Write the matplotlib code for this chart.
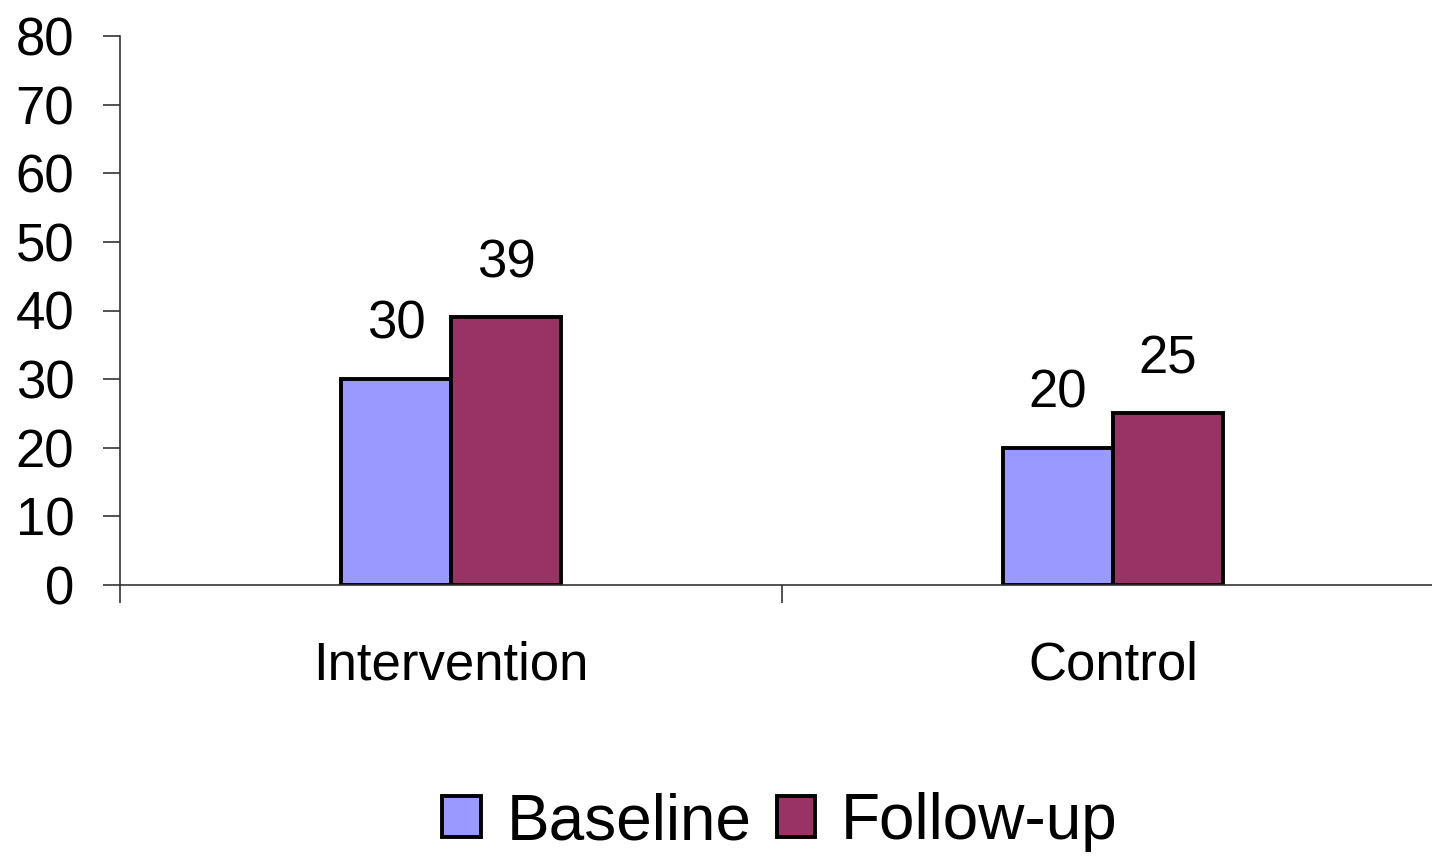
import numpy as np
import matplotlib.pyplot as plt
from matplotlib.patches import Patch

plt.rcParams['font.family'] = ['Liberation Sans', 'DejaVu Sans']

groups = ['Intervention', 'Control']
series = ['Baseline', 'Follow-up']
baseline = [30, 20]
followup = [39, 25]
colors = ['#9999FF', '#993366']

fig = plt.figure(figsize=(14.32, 8.56), dpi=100)
ax = fig.add_axes([120 / 1432, 1 - 585 / 856, 1 - 120 / 1432, 549 / 856])

x = np.arange(len(groups))
w = 0.166
b1 = ax.bar(x - w / 2, baseline, w, color=colors[0], edgecolor='black', linewidth=2.8)
b2 = ax.bar(x + w / 2, followup, w, color=colors[1], edgecolor='black', linewidth=2.8)

for bars, vals in [(b1, baseline), (b2, followup)]:
    for r, v in zip(bars, vals):
        ax.annotate(str(v), (r.get_x() + r.get_width() / 2, v), xytext=(0, 29),
                    textcoords='offset points', ha='center', va='baseline',
                    fontsize=38)

ax.set_yticks(range(0, 81, 10))
ax.tick_params(axis='y', labelsize=38, length=12, width=1.2, pad=21, color='#333333')

# group boundaries as ticks, group names as minor tick labels
ax.set_xticks([-0.5, 0.5, 1.5])
ax.set_xticklabels([])
ax.tick_params(axis='x', which='major', length=13, width=1.2, direction='out', color='#333333')
ax.set_xticks(x, minor=True)
ax.set_xticklabels(groups, minor=True)
ax.tick_params(axis='x', which='minor', length=0, labelsize=38, pad=40)

ax.set_ylim(0, 80)
ax.set_xlim(-0.5, 1.482)

for s in ['top', 'right']:
    ax.spines[s].set_visible(False)
for s in ['left', 'bottom']:
    ax.spines[s].set_color('#333333')
    ax.spines[s].set_linewidth(1.2)

handles = [Patch(facecolor=c, edgecolor='black', linewidth=2.8) for c in colors]
fig.legend(handles, series, loc='center', bbox_to_anchor=(780 / 1432, 1 - 822 / 856),
           ncol=2, frameon=False, fontsize=46, handlelength=0.6, handleheight=0.6,
           handletextpad=0.4, columnspacing=0.4, borderpad=0)

fig.savefig('out.png', dpi=100)
